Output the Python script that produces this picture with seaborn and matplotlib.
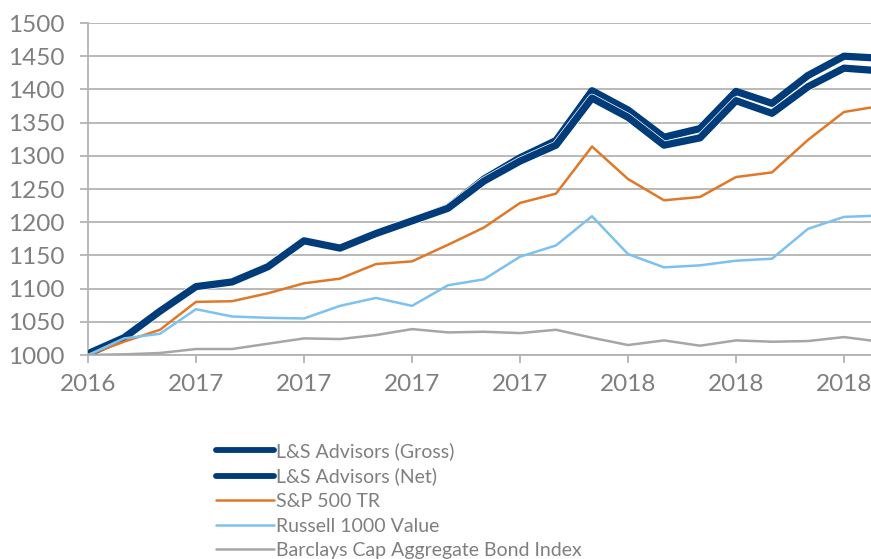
import numpy as np
import pandas as pd
import matplotlib
matplotlib.use("Agg")
import matplotlib.pyplot as plt
import matplotlib.patheffects as pe
import seaborn as sns

# datos (indice mensual, cada 3 meses un rotulo)
gross = [1002, 1026, 1066, 1103, 1110, 1133, 1172, 1161, 1183, 1202, 1222, 1265,
         1297, 1323, 1398, 1369, 1328, 1341, 1397, 1379, 1421, 1450, 1447]
net = [1002, 1026, 1066, 1103, 1110, 1133, 1172, 1161, 1183, 1202, 1221, 1262,
       1292, 1316, 1387, 1358, 1316, 1327, 1383, 1364, 1404, 1432, 1428]
sp500 = [1000, 1020, 1038, 1080, 1081, 1093, 1108, 1115, 1137, 1141, 1166, 1192,
         1229, 1243, 1314, 1265, 1233, 1238, 1268, 1275, 1324, 1366, 1375]
russell = [1000, 1025, 1032, 1069, 1058, 1056, 1055, 1074, 1086, 1074, 1105, 1114,
           1148, 1165, 1209, 1152, 1132, 1135, 1142, 1145, 1190, 1208, 1210]
barclays = [1000, 1001, 1003, 1009, 1009, 1017, 1025, 1024, 1030, 1039, 1034, 1035,
            1033, 1038, 1026, 1015, 1022, 1014, 1022, 1020, 1021, 1027, 1020]
tick_labels = ["2016", "2017", "2017", "2017", "2017", "2018", "2018", "2018"]

series = {
    "L&S Advisors (Gross)": gross,
    "L&S Advisors (Net)": net,
    "S&P 500 TR": sp500,
    "Russell 1000 Value": russell,
    "Barclays Cap Aggregate Bond Index": barclays,
}
colores = {
    "L&S Advisors (Gross)": "#003B7A",
    "L&S Advisors (Net)": "#003B7A",
    "S&P 500 TR": "#E07828",
    "Russell 1000 Value": "#7DC1EF",
    "Barclays Cap Aggregate Bond Index": "#A6A6A6",
}
grosor = {
    "L&S Advisors (Gross)": 5.2,
    "L&S Advisors (Net)": 5.2,
    "S&P 500 TR": 1.8,
    "Russell 1000 Value": 1.8,
    "Barclays Cap Aggregate Bond Index": 1.8,
}

x = np.arange(len(gross))

sns.set_style("white")
plt.rcParams["font.family"] = ["Lato", "DejaVu Sans"]

fig = plt.figure(figsize=(8.71, 5.59), dpi=100)
ax = fig.add_axes([88 / 871, 204 / 559, 1 - 88 / 871, 332 / 559])

for nombre, vals in series.items():
    df = pd.DataFrame({"x": x, "valor": vals})
    efectos = None
    if nombre == "L&S Advisors (Net)":
        efectos = [pe.Stroke(linewidth=grosor[nombre] + 1.0, foreground="white"), pe.Normal()]
    sns.lineplot(data=df, x="x", y="valor", ax=ax, color=colores[nombre],
                 linewidth=grosor[nombre], label=nombre, solid_capstyle="round",
                 path_effects=efectos, zorder=3)

ax.set_xlim(0, (871 - 88) / 36)
ax.set_ylim(1000, 1500)
ax.set_yticks(range(1000, 1501, 50))
ax.set_xticks(range(0, 22, 3))
ax.set_xticklabels(tick_labels)
ax.set_xlabel("")
ax.set_ylabel("")

ax.grid(axis="y", color="#B3B3B3", linewidth=1.3)
ax.set_axisbelow(True)
for lado in ["top", "right"]:
    ax.spines[lado].set_visible(False)
for lado in ["left", "bottom"]:
    ax.spines[lado].set_color("#B3B3B3")
    ax.spines[lado].set_linewidth(1.3)

ax.tick_params(axis="y", length=6, width=1.3, color="#B3B3B3", labelsize=17.5,
               labelcolor="#7F7F7F", pad=11, left=True)
ax.tick_params(axis="x", length=6, width=1.3, color="#B3B3B3", labelsize=17.5,
               labelcolor="#7F7F7F", pad=8, bottom=True, direction="out")

leg = ax.legend(loc="upper left", bbox_to_anchor=(216 / 871, 1 - 442 / 559),
                bbox_transform=fig.transFigure, frameon=False, fontsize=14,
                handlelength=3.0, handletextpad=0.1, labelspacing=0.39,
                borderpad=0, borderaxespad=0, labelcolor="#7F7F7F")
for linea in leg.get_lines()[:2]:
    linea.set_linewidth(4.2)

plt.savefig("out.png", dpi=100)
plt.close()
